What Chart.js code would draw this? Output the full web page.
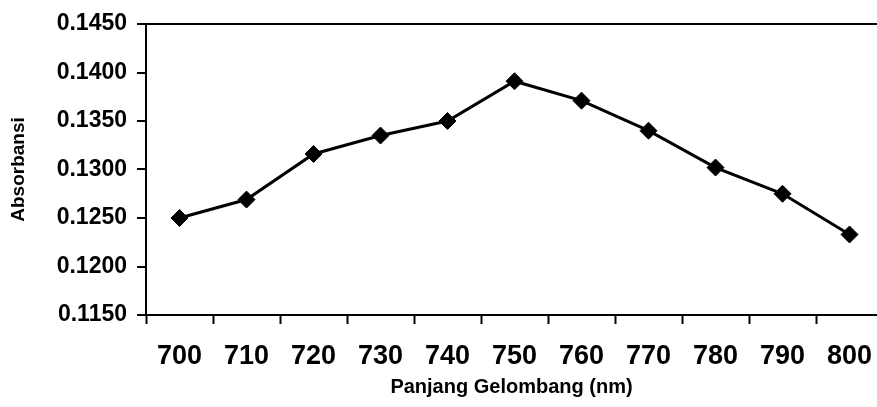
<!DOCTYPE html>
<html>
<head>
<meta charset="utf-8">
<script src="https://cdn.jsdelivr.net/npm/chart.js@4"></script>
<style>
  html, body { margin: 0; padding: 0; background: #fff; overflow: hidden; }
  #wrap { width: 877px; height: 407px; position: relative; }
</style>
</head>
<body>
<div id="wrap"><canvas id="c"></canvas></div>
<script>
const wavelengths = [700, 710, 720, 730, 740, 750, 760, 770, 780, 790, 800];
const absorbance = [0.1250, 0.1269, 0.1316, 0.1335, 0.1350, 0.1391, 0.1371, 0.1340, 0.1302, 0.1275, 0.1233];
const yMin = 0.1150, yMax = 0.1450, yStep = 0.0050;
const xMin = 695, xMax = 804.1, xHalfStep = 5;
const xTitle = 'Panjang Gelombang (nm)';
const yTitle = 'Absorbansi';

const points = wavelengths.map((w, i) => ({ x: w, y: absorbance[i] }));
const isLabelTick = v => wavelengths.some(w => Math.abs(w - v) < 1e-6);

new Chart(document.getElementById('c'), {
  type: 'line',
  data: {
    datasets: [{
      data: points,
      borderColor: '#000',
      borderWidth: 3,
      backgroundColor: '#000',
      pointStyle: 'rectRot',
      pointRadius: 8.5,
      pointHoverRadius: 8.5,
      pointBackgroundColor: '#000',
      pointBorderColor: '#000',
      pointBorderWidth: 1,
      tension: 0,
      fill: false,
      clip: false
    }]
  },
  options: {
    responsive: true,
    maintainAspectRatio: false,
    animation: false,
    events: [],
    layout: { autoPadding: false, padding: { top: 24, right: 0, bottom: 0, left: 0 } },
    plugins: { legend: { display: false }, tooltip: { enabled: false } },
    scales: {
      x: {
        type: 'linear',
        min: xMin, max: xMax,
        afterBuildTicks: s => {
          const t = [];
          wavelengths.forEach(w => { t.push({ value: w - xHalfStep }); t.push({ value: w }); });
          s.ticks = t.filter(o => o.value >= xMin && o.value <= xMax);
        },
        grid: {
          display: true, drawOnChartArea: false, drawTicks: true, tickLength: 9, tickWidth: 2,
          tickColor: ctx => (ctx.tick && isLabelTick(ctx.tick.value)) ? 'rgba(0,0,0,0)' : '#000'
        },
        border: { display: true, color: '#000', width: 2 },
        ticks: { color: '#000', font: { family: 'Liberation Sans', size: 27, weight: 'bold', lineHeight: 2.09 }, padding: 4, maxRotation: 0, autoSkip: false,
                 callback: v => isLabelTick(v) ? String(Math.round(v)) : '' },
        title: { display: true, text: xTitle, color: '#000', font: { family: 'Liberation Sans', size: 20, weight: 'bold' }, padding: { top: 0, bottom: 8 } },
        afterFit: s => { s.height = 92; s.paddingLeft = 0; s.paddingRight = 0; }
      },
      y: {
        min: yMin, max: yMax,
        grid: {
          display: true, drawOnChartArea: true, drawTicks: true, tickLength: 9, tickColor: '#000', tickWidth: 2,
          color: ctx => (ctx.tick && Math.abs(ctx.tick.value - yMax) < 1e-9) ? '#000' : 'rgba(0,0,0,0)',
          lineWidth: 2
        },
        border: { display: true, color: '#000', width: 2 },
        ticks: { stepSize: yStep, color: '#000', font: { family: 'Liberation Sans', size: 23, weight: 'bold' }, padding: 10,
                 callback: v => Number(v).toFixed(4) },
        title: { display: true, text: yTitle, color: '#000', font: { family: 'Liberation Sans', size: 19, weight: 'bold' }, padding: { top: 7, bottom: 0 } },
        afterFit: s => { s.width = 146; }
      }
    }
  }
});
</script>
</body>
</html>
